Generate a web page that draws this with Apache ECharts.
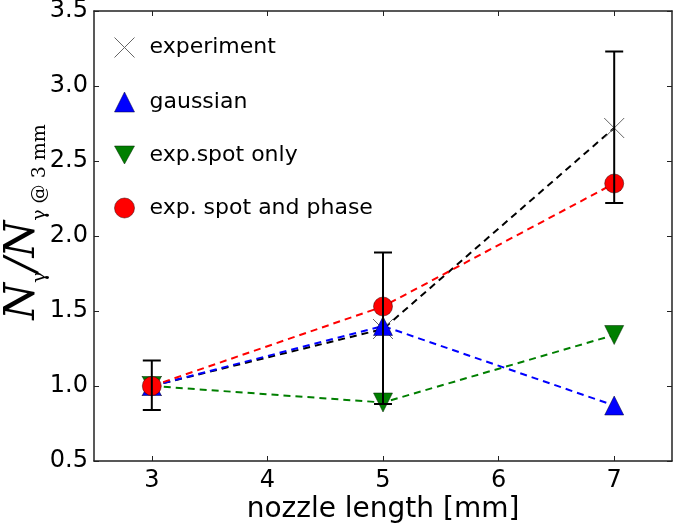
<!DOCTYPE html>
<html>
<head>
<meta charset="utf-8">
<script src="https://cdn.jsdelivr.net/npm/echarts@6/dist/echarts.min.js"></script>
<style>
  html, body { margin: 0; padding: 0; background: #fff; }
  #chart { width: 675px; height: 523px; }
</style>
</head>
<body>
<div id="chart"></div>
<script>
// nozzle lengths [mm]
const nozzle = [3, 5, 7];
const experiment = [1.0, 1.38, 2.72];
const expLow = [0.84, 0.88, 2.22];
const expHigh = [1.17, 1.89, 3.23];
const gaussian = [1.0, 1.40, 0.87];
const spotOnly = [1.0, 0.89, 1.34];
const spotPhase = [1.0, 1.53, 2.35];
const xTicks = [3, 4, 5, 6, 7];

const crossPath = 'path://M0,0L10,10M10,0L0,10';
const downTri = 'path://M0,0L10,0L5,9Z';
const font = 'DejaVu Sans';

const pairs = vals => nozzle.map((x, i) => [x, vals[i]]);
const errData = nozzle.map((x, i) => [x, expLow[i], expHigh[i]]);

const chart = echarts.init(document.getElementById('chart'));

const frameLine = { show: true, lineStyle: { color: '#222', width: 1.5 } };
const frameTick = { show: true, inside: true, length: 5, lineStyle: { color: '#222' } };

const option = {
  backgroundColor: '#fff',
  animation: false,
  grid: { left: 94, right: 3, top: 11, bottom: 62, outerBoundsMode: 'none', containLabel: false },
  legend: {
    orient: 'vertical',
    left: 107,
    top: 30,
    itemGap: 31,
    itemWidth: 20,
    itemHeight: 20,
    textStyle: { fontFamily: font, fontSize: 22, color: '#000', padding: [0, 0, 0, 10] },
    data: [
      { name: 'experiment', icon: crossPath, itemStyle: { color: 'none', borderColor: '#666', borderWidth: 1 } },
      { name: 'gaussian', icon: 'triangle', itemStyle: { color: '#0000ff', borderColor: '#000033', borderWidth: 0.5 } },
      { name: 'exp.spot only', icon: downTri, itemStyle: { color: '#007f00', borderColor: '#002200', borderWidth: 0.5 } },
      { name: 'exp. spot and phase', icon: 'circle', itemStyle: { color: '#ff0000', borderColor: '#330000', borderWidth: 0.5 } }
    ]
  },
  xAxis: [
    {
      type: 'value', min: 2.5, max: 7.5,
      name: 'nozzle length [mm]', nameLocation: 'middle', nameGap: 35, nameMoveOverlap: false,
      nameTextStyle: { fontFamily: font, fontSize: 28, color: '#000' },
      axisLine: frameLine,
      axisTick: Object.assign({ customValues: xTicks }, frameTick),
      axisLabel: { fontFamily: font, fontSize: 24, color: '#000', margin: 8, customValues: xTicks },
      splitLine: { show: false }
    },
    {
      type: 'value', min: 2.5, max: 7.5, position: 'top',
      axisLine: frameLine,
      axisTick: Object.assign({ customValues: xTicks }, frameTick),
      axisLabel: { show: false },
      splitLine: { show: false }
    }
  ],
  yAxis: [
    {
      type: 'value', min: 0.5, max: 3.5, interval: 0.5,
      name: '{N|N}{s|γ}{N|/N}{s|γ @ 3 mm}',
      nameLocation: 'middle', nameGap: 50, nameRotate: 90, nameMoveOverlap: false,
      nameTextStyle: {
        padding: [0, 0, 0, 28],
        rich: {
          N: { fontFamily: 'DejaVu Serif', fontStyle: 'italic', fontSize: 42, color: '#000', verticalAlign: 'bottom', lineHeight: 44 },
          s: { fontFamily: 'DejaVu Serif', fontSize: 19, color: '#000', verticalAlign: 'bottom', lineHeight: 44, padding: [0, 0, -6, 0] }
        }
      },
      axisLine: frameLine,
      axisTick: frameTick,
      axisLabel: {
        fontFamily: font, fontSize: 24, color: '#000', margin: 6,
        formatter: v => v.toFixed(1)
      },
      splitLine: { show: false }
    },
    {
      type: 'value', min: 0.5, max: 3.5, interval: 0.5, position: 'right',
      axisLine: frameLine,
      axisTick: frameTick,
      axisLabel: { show: false },
      splitLine: { show: false }
    }
  ],
  series: [
    {
      name: 'experiment', type: 'line', data: pairs(experiment),
      symbol: crossPath, symbolSize: 20,
      itemStyle: { color: 'none', borderColor: '#666', borderWidth: 1 },
      lineStyle: { color: '#000', width: 2, type: [7, 5] },
      z: 3
    },
    {
      name: 'gaussian', type: 'line', data: pairs(gaussian),
      symbol: 'triangle', symbolSize: 19,
      itemStyle: { color: '#0000ff', borderColor: '#000033', borderWidth: 0.5 },
      lineStyle: { color: '#0000ff', width: 2, type: [7, 5] },
      z: 4
    },
    {
      name: 'exp.spot only', type: 'line', data: pairs(spotOnly),
      symbol: downTri, symbolSize: 19,
      itemStyle: { color: '#007f00', borderColor: '#002200', borderWidth: 0.5 },
      lineStyle: { color: '#007f00', width: 2, type: [7, 5] },
      z: 4
    },
    {
      name: 'exp. spot and phase', type: 'line', data: pairs(spotPhase),
      symbol: 'circle', symbolSize: 19,
      itemStyle: { color: '#ff0000', borderColor: '#330000', borderWidth: 0.5 },
      lineStyle: { color: '#ff0000', width: 2, type: [7, 5] },
      z: 5
    },
    {
      type: 'custom', name: 'errorbars', data: errData, z: 10,
      renderItem: (params, api) => {
        const x = api.value(0);
        const lo = api.coord([x, api.value(1)]);
        const hi = api.coord([x, api.value(2)]);
        const cap = 9;
        const style = { stroke: '#000', lineWidth: 2 };
        return {
          type: 'group',
          children: [
            { type: 'line', shape: { x1: lo[0], y1: lo[1], x2: hi[0], y2: hi[1] }, style },
            { type: 'line', shape: { x1: lo[0] - cap, y1: lo[1], x2: lo[0] + cap, y2: lo[1] }, style },
            { type: 'line', shape: { x1: hi[0] - cap, y1: hi[1], x2: hi[0] + cap, y2: hi[1] }, style }
          ]
        };
      }
    }
  ]
};

chart.setOption(option);
</script>
</body>
</html>
